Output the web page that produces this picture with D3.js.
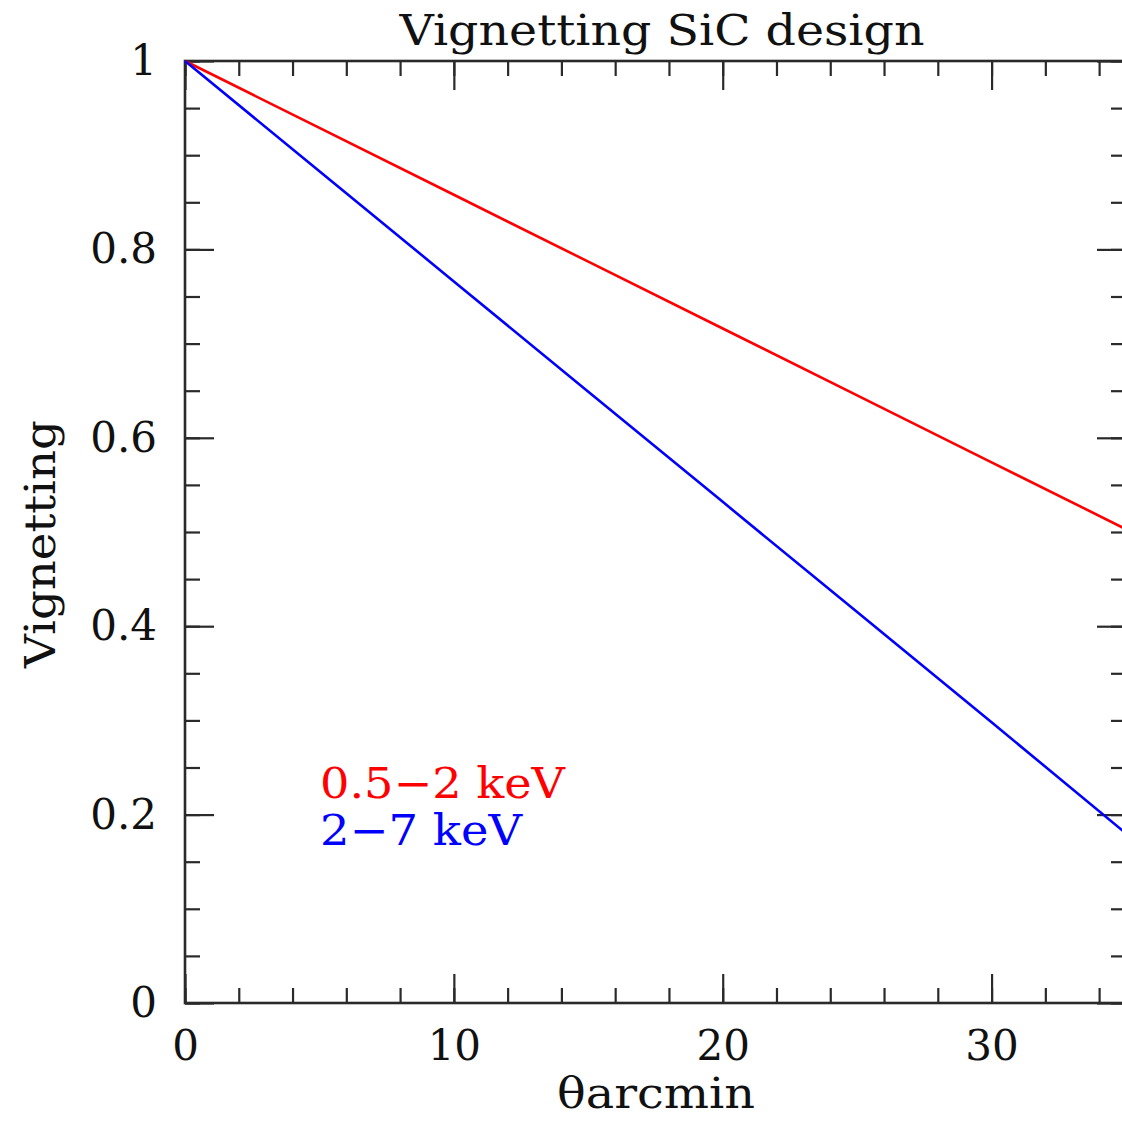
<!DOCTYPE html>
<html>
<head>
<meta charset="utf-8">
<script src="https://cdn.jsdelivr.net/npm/d3@7"></script>
<style>
  html, body { margin: 0; padding: 0; background: #fff; overflow: hidden; }
  text { font-family: "DejaVu Serif", "Liberation Serif", serif; }
</style>
</head>
<body>
<svg id="chart" width="1122" height="1121"></svg>
<script>
// ---- data ----
const theta = [0, 5, 10, 15, 20, 25, 30, 35];
const softBand = [1.000, 0.929, 0.858, 0.787, 0.716, 0.645, 0.574, 0.503];
const hardBand = [1.000, 0.883, 0.766, 0.649, 0.532, 0.415, 0.298, 0.180];
const seriesNames = ["0.5\u22122 keV", "2\u22127 keV"];
const xMajorTicks = [0, 10, 20, 30];
const yMajorTicks = [0, 0.2, 0.4, 0.6, 0.8, 1];
const titleText = "Vignetting SiC design";
const xLabel = "\u03B8arcmin";
const yLabel = "Vignetting";

// ---- layout ----
const svg = d3.select("#chart");
const L = 185, T = 61, R = 1126, B = 1003;
const x = d3.scaleLinear().domain([0, 35]).range([L, R]);
const y = d3.scaleLinear().domain([0, 1]).range([B, T]);
const axisColor = "#2a2a2a";
const fs = 42;

const xMinor = d3.range(0, 35.01, 2);
const yMinor = d3.range(0, 1.0001, 0.05).map(v => +v.toFixed(2));
const fmtY = v => v === 0 ? "0" : v === 1 ? "1" : d3.format(".1f")(v);

function styleAxis(g) {
  g.select(".domain").remove();
  g.selectAll(".tick line").attr("stroke", axisColor).attr("stroke-width", 2.2);
  g.selectAll(".tick text").attr("fill", "#111").style("font-size", fs + "px")
    .style("font-family", "'DejaVu Serif', serif");
}

// bottom
svg.append("g").attr("transform", `translate(0,${B})`)
  .call(d3.axisBottom(x).tickValues(xMinor).tickSizeInner(-15).tickSizeOuter(0).tickFormat(""))
  .call(styleAxis);
svg.append("g").attr("transform", `translate(0,${B})`)
  .call(d3.axisBottom(x).tickValues(xMajorTicks).tickSizeInner(-29).tickSizeOuter(0).tickPadding(27).tickFormat(d3.format("d")))
  .call(styleAxis);
// top
svg.append("g").attr("transform", `translate(0,${T})`)
  .call(d3.axisTop(x).tickValues(xMinor).tickSizeInner(-15).tickSizeOuter(0).tickFormat(""))
  .call(styleAxis);
svg.append("g").attr("transform", `translate(0,${T})`)
  .call(d3.axisTop(x).tickValues(xMajorTicks).tickSizeInner(-29).tickSizeOuter(0).tickFormat(""))
  .call(styleAxis);
// left
svg.append("g").attr("transform", `translate(${L},0)`)
  .call(d3.axisLeft(y).tickValues(yMinor).tickSizeInner(-15).tickSizeOuter(0).tickFormat(""))
  .call(styleAxis);
svg.append("g").attr("transform", `translate(${L},0)`)
  .call(d3.axisLeft(y).tickValues(yMajorTicks).tickSizeInner(-29).tickSizeOuter(0).tickPadding(28).tickFormat(fmtY))
  .call(styleAxis);
// right
svg.append("g").attr("transform", `translate(${R},0)`)
  .call(d3.axisRight(y).tickValues(yMinor).tickSizeInner(-15).tickSizeOuter(0).tickFormat(""))
  .call(styleAxis);
svg.append("g").attr("transform", `translate(${R},0)`)
  .call(d3.axisRight(y).tickValues(yMajorTicks).tickSizeInner(-29).tickSizeOuter(0).tickFormat(""))
  .call(styleAxis);

// frame
svg.append("rect").attr("x", L).attr("y", T).attr("width", R - L).attr("height", B - T)
  .attr("fill", "none").attr("stroke", axisColor).attr("stroke-width", 2.6);

// lines
const line = d3.line().x((d, i) => x(theta[i])).y(d => y(d));
svg.append("path").datum(softBand).attr("d", line)
  .attr("fill", "none").attr("stroke", "#ff0000").attr("stroke-width", 2.6);
svg.append("path").datum(hardBand).attr("d", line)
  .attr("fill", "none").attr("stroke", "#0000ff").attr("stroke-width", 2.6);

// legend text
svg.append("text").attr("x", 320).attr("y", 798).attr("fill", "#ff0000")
  .attr("textLength", 245).attr("lengthAdjust", "spacingAndGlyphs")
  .style("font-size", fs + "px").text(seriesNames[0]);
svg.append("text").attr("x", 320).attr("y", 845).attr("fill", "#0000ff")
  .attr("textLength", 202).attr("lengthAdjust", "spacingAndGlyphs")
  .style("font-size", fs + "px").text(seriesNames[1]);

// title
svg.append("text").attr("x", 662).attr("y", 45).attr("text-anchor", "middle")
  .attr("textLength", 525).attr("lengthAdjust", "spacingAndGlyphs")
  .attr("fill", "#111").style("font-size", fs + "px").text(titleText);
// x label
svg.append("text").attr("x", 656).attr("y", 1108).attr("text-anchor", "middle")
  .attr("textLength", 198).attr("lengthAdjust", "spacingAndGlyphs")
  .attr("fill", "#111").style("font-size", fs + "px").text(xLabel);
// y label
svg.append("text").attr("transform", `translate(55,544) rotate(-90)`)
  .attr("text-anchor", "middle").attr("fill", "#111")
  .attr("textLength", 248).attr("lengthAdjust", "spacingAndGlyphs")
  .style("font-size", fs + "px").text(yLabel);
</script>
</body>
</html>
